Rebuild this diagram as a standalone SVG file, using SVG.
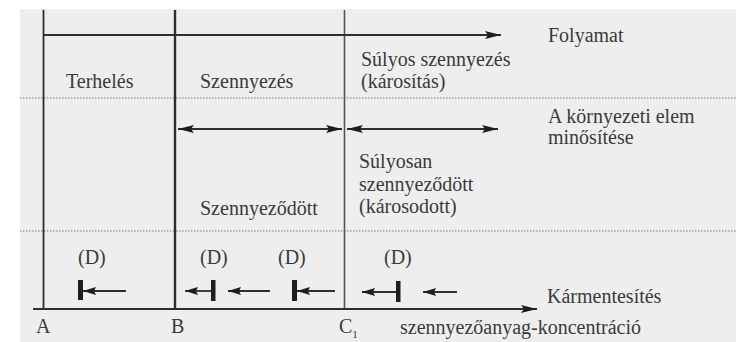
<svg xmlns="http://www.w3.org/2000/svg" width="736" height="342" viewBox="0 0 736 342">
<style>
text{font-family:"Liberation Serif","DejaVu Serif",serif;font-size:20px;fill:#3a3a3a}
.ln{stroke:#2e2e2e;fill:none}
.dot{stroke:#777;stroke-width:1;stroke-dasharray:1.5 1.5;fill:none}
.bar{fill:#1e1e1e}
</style>
<defs>
<marker id="big" viewBox="0 0 16 8" refX="16" refY="4" markerWidth="16" markerHeight="8" markerUnits="userSpaceOnUse" orient="auto-start-reverse">
<path d="M0,0 L16,4 L0,8 L3,4 Z" fill="#1e1e1e"/>
</marker>
<marker id="sm" viewBox="0 0 13 8" refX="13" refY="4" markerWidth="13" markerHeight="8" markerUnits="userSpaceOnUse" orient="auto-start-reverse">
<path d="M0,0 L13,4 L0,8 L2,4 Z" fill="#1e1e1e"/>
</marker>
</defs>
<rect x="0" y="0" width="736" height="342" fill="#ffffff"/>
<rect x="20" y="9" width="716" height="333" fill="#eeeeee"/>
<g id="grid">
<line class="dot" x1="20" y1="98" x2="736" y2="98"/>
<line class="dot" x1="20" y1="231" x2="736" y2="231"/>
<line class="ln" x1="43.5" y1="10" x2="43.5" y2="308" stroke-width="1.8"/>
<line class="ln" x1="175" y1="10" x2="175" y2="308" stroke-width="2.4"/>
<line class="ln" x1="344.5" y1="10" x2="344.5" y2="308" stroke-width="1.6" style="stroke:#555"/>
</g>
<g id="connectors">
<line class="ln" x1="43" y1="35" x2="501" y2="35" stroke-width="2" marker-end="url(#big)"/>
<line class="ln" x1="178" y1="129" x2="342" y2="129" stroke-width="2" marker-start="url(#big)" marker-end="url(#big)"/>
<line class="ln" x1="347" y1="129" x2="498" y2="129" stroke-width="2" marker-start="url(#big)" marker-end="url(#big)"/>
<line class="ln" x1="33" y1="309" x2="537" y2="309" stroke-width="2" marker-end="url(#big)"/>
<line class="ln" x1="126" y1="291" x2="83" y2="291" stroke-width="1.8" marker-end="url(#sm)"/>
<line class="ln" x1="212" y1="291" x2="185" y2="291" stroke-width="1.8" marker-end="url(#sm)"/>
<line class="ln" x1="270" y1="291" x2="228" y2="291" stroke-width="1.8" marker-end="url(#sm)"/>
<line class="ln" x1="335" y1="291" x2="297" y2="291" stroke-width="1.8" marker-end="url(#sm)"/>
<line class="ln" x1="397" y1="292" x2="362" y2="292" stroke-width="1.8" marker-end="url(#sm)"/>
<line class="ln" x1="457" y1="292" x2="423" y2="292" stroke-width="1.8" marker-end="url(#sm)"/>
<rect class="bar" x="78" y="280" width="5" height="20"/>
<rect class="bar" x="211" y="280" width="4.5" height="21"/>
<rect class="bar" x="292" y="280" width="5" height="21"/>
<rect class="bar" x="396" y="281" width="4.5" height="21"/>
</g>
<g id="labels-top">
<text x="548" y="42">Folyamat</text>
<text x="66" y="88">Terhelés</text>
<text x="200" y="88">Szennyezés</text>
<text x="361" y="66">Súlyos szennyezés</text>
<text x="361" y="88">(károsítás)</text>
</g>
<g id="labels-mid">
<text x="548" y="123">A környezeti elem</text>
<text x="548" y="144">minősítése</text>
<text x="359" y="168">Súlyosan</text>
<text x="359" y="191">szennyeződött</text>
<text x="359" y="213">(károsodott)</text>
<text x="200" y="215">Szennyeződött</text>
</g>
<g id="labels-bottom">
<text x="78" y="264">(D)</text>
<text x="200" y="264">(D)</text>
<text x="278" y="264">(D)</text>
<text x="384" y="264">(D)</text>
<text x="547" y="303">Kármentesítés</text>
<text x="400" y="334">szennyezőanyag-koncentráció</text>
<text x="36" y="333">A</text>
<text x="171" y="333">B</text>
<text x="339" y="333">C<tspan font-size="11" dy="5">1</tspan></text>
</g>
</svg>
